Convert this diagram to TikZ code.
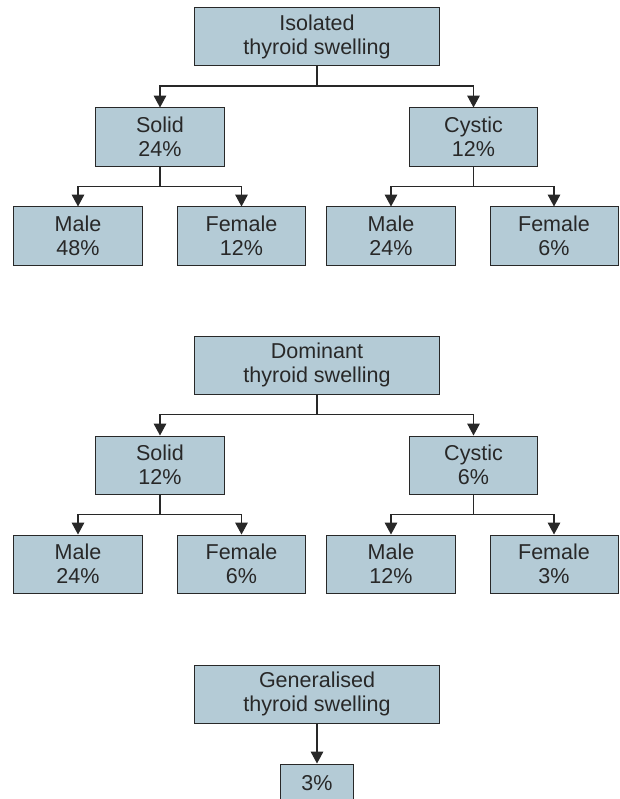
\documentclass[tikz,border=0pt]{standalone}
\usepackage{fontspec}
\setmainfont{Liberation Sans}
\usetikzlibrary{arrows.meta}

\definecolor{boxfill}{RGB}{180,203,214}
\definecolor{ink}{RGB}{40,40,40}

\begin{document}
\begin{tikzpicture}[x=0.025cm, y=-0.025cm,
    box/.style={draw=ink, fill=boxfill, line width=0.7pt, text=ink,
        inner sep=0pt, minimum width=3.2cm, minimum height=1.45cm,
        align=center, font=\fontsize{15.3}{17.1}\selectfont},
    wide/.style={box, minimum width=6.1cm},
    arr/.style={draw=ink, line width=0.8pt,
        -{Triangle[length=8.5pt,width=9pt]}}]
    \useasboundingbox (0,0) rectangle (619,799);

    % isolated swelling
    \node[wide] (iso) at (317,36.5) {Isolated\\thyroid swelling};
    \node[box] (isoS) at (160,137) {Solid\\24\%};
    \node[box] (isoC) at (473.5,137) {Cystic\\12\%};
    \node[box] (isoSM) at (78,236) {Male\\48\%};
    \node[box] (isoSF) at (241.5,236) {Female\\12\%};
    \node[box] (isoCM) at (391,236) {Male\\24\%};
    \node[box] (isoCF) at (554,236) {Female\\6\%};

    % dominant swelling
    \node[wide] (dom) at (317,365) {Dominant\\thyroid swelling};
    \node[box] (domS) at (160,465) {Solid\\12\%};
    \node[box] (domC) at (473.5,465) {Cystic\\6\%};
    \node[box] (domSM) at (78,564) {Male\\24\%};
    \node[box] (domSF) at (241.5,564) {Female\\6\%};
    \node[box] (domCM) at (391,564) {Male\\12\%};
    \node[box] (domCF) at (554,564) {Female\\3\%};

    % generalised swelling
    \node[wide] (gen) at (317,694) {Generalised\\thyroid swelling};
    \node[box, minimum width=1.825cm, minimum height=0.95cm] (genP) at (317,783) {3\%};

    \foreach \a/\b in {iso/isoS, iso/isoC, isoS/isoSM, isoS/isoSF,
        isoC/isoCM, isoC/isoCF, dom/domS, dom/domC, domS/domSM,
        domS/domSF, domC/domCM, domC/domCF}
        \draw[arr] (\a.south) -- ++(0,20) -| (\b.north);
    \draw[arr] (gen.south) -- (genP.north);
\end{tikzpicture}
\end{document}
